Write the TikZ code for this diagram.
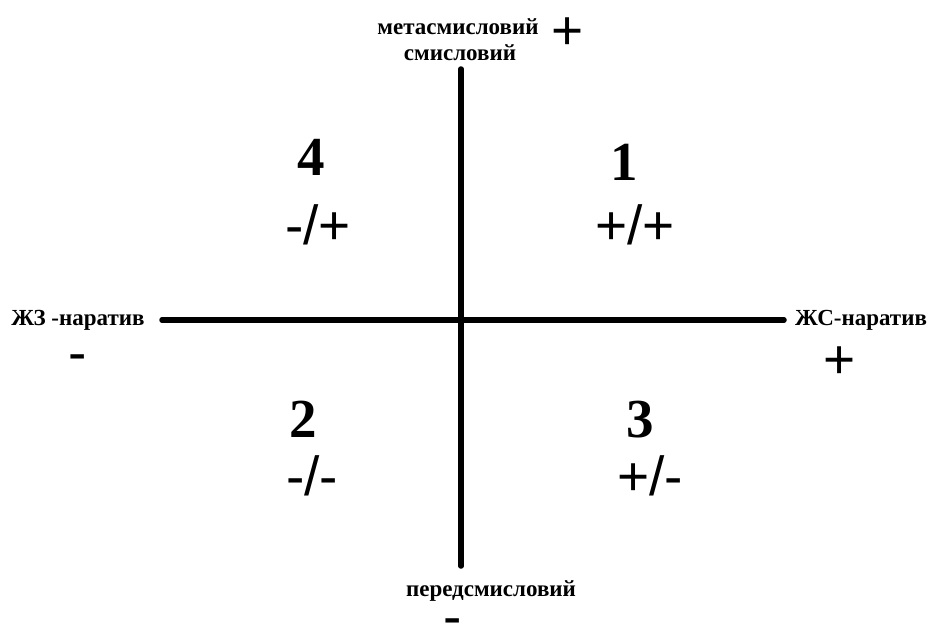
\documentclass[tikz,border=0pt]{standalone}
\usepackage{fontspec}
\setmainfont{Liberation Serif}
\newfontfamily\signfont{Liberation Sans}
\begin{document}
\begin{tikzpicture}[x=1pt, y=-1pt]
	\tikzset{
		axis/.style={line width=5.5pt, line cap=round},
		axlabel/.style={font=\fontsize{23}{26}\selectfont\bfseries, inner sep=0, anchor=base},
		quadnum/.style={font=\fontsize{55}{60}\selectfont\bfseries, inner sep=0, anchor=base},
		sign/.style={font=\signfont\fontsize{55}{60}\selectfont, inner sep=0, anchor=base},
		minus/.style={sign, text height=0.35em, text depth=0pt},
	}
	\useasboundingbox (0,0) rectangle (929,626);
	% axes
	\coordinate (west) at (162,320);
	\coordinate (east) at (784,320);
	\coordinate (north) at (461,69);
	\coordinate (south) at (461,566);
	\draw[axis] (west) -- (east);
	\draw[axis] (north) -- (south);
	% axis labels
	\node[axlabel] (meta) at (458,35) {метасмисловий};
	\node[axlabel] (sense) at (460,60) {смисловий};
	\node[axlabel] (pre) at (491,596) {передсмисловий};
	\node[axlabel] (zz) at (78,325) {ЖЗ -наратив};
	\node[axlabel] (zs) at (861,325) {ЖС-наратив};
	\node[sign] (metaplus) at (568,49) {+};
	\node[minus] (preminus) at (453,635) {-};
	\node[minus] (zzminus) at (78,371) {-};
	\node[sign] (zsplus) at (840,378) {+};
	% quadrants
	\node[quadnum] (q1) at (624,180) {1};
	\node[sign] (q1sign) at (635,244) {+/+};
	\node[quadnum] (q2) at (303,437) {2};
	\node[sign] (q2sign) at (312,495) {-/-};
	\node[quadnum] (q3) at (640,437) {3};
	\node[sign] (q3sign) at (650,495) {+/-};
	\node[quadnum] (q4) at (311,175) {4};
	\node[sign] (q4sign) at (318,244) {-/+};
\end{tikzpicture}
\end{document}
